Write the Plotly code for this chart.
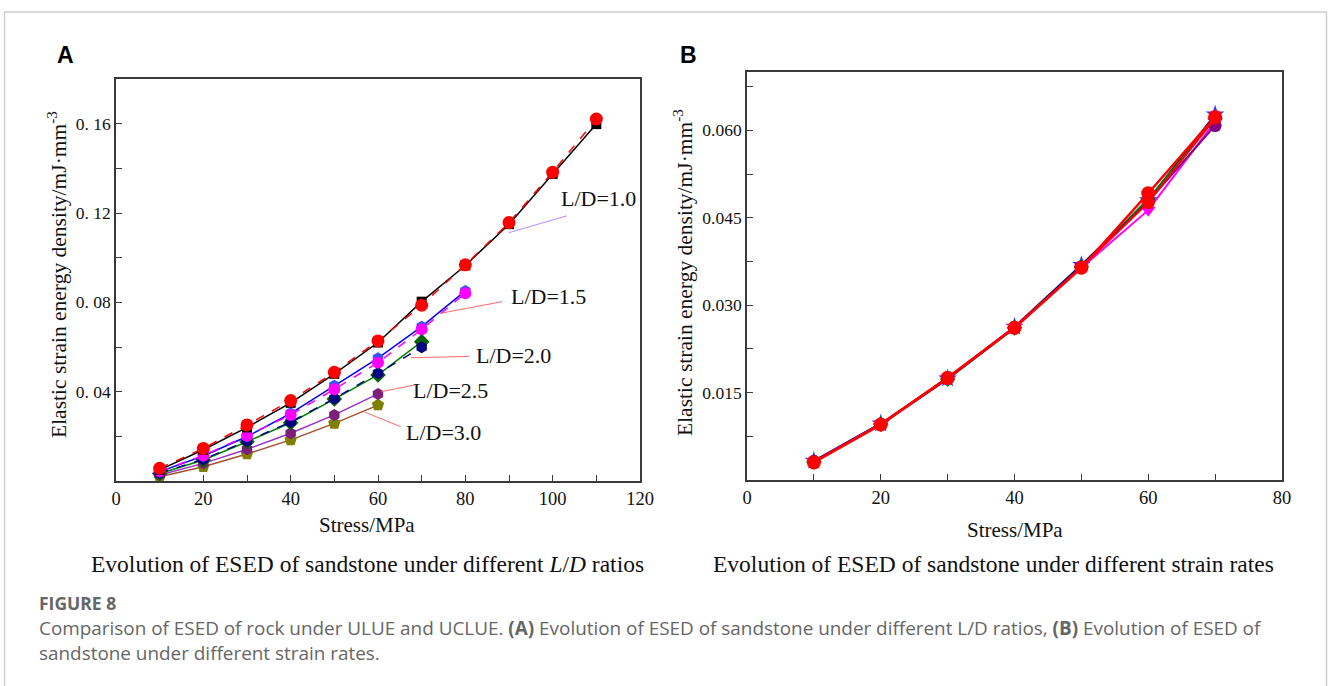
import plotly.graph_objects as go

# ---------------- data: panel A (different L/D ratios) ----------------
stress_10 = [10, 20, 30, 40, 50, 60, 70, 80, 90, 100, 110]
ld10_a = [0.0050, 0.0140, 0.0240, 0.0350, 0.0480, 0.0620, 0.0803, 0.0965, 0.1150, 0.1375, 0.1598]
ld10_b = [0.0057, 0.0146, 0.0251, 0.0360, 0.0487, 0.0627, 0.0787, 0.0968, 0.1157, 0.1383, 0.1621]

stress_15 = [10, 20, 30, 40, 50, 60, 70, 80]
ld15_a = [0.0042, 0.0112, 0.0199, 0.0303, 0.0426, 0.0550, 0.0691, 0.0851]
ld15_b = [0.0044, 0.0114, 0.0203, 0.0296, 0.0411, 0.0530, 0.0679, 0.0841]

stress_20 = [10, 20, 30, 40, 50, 60, 70]
ld20_a = [0.0034, 0.0094, 0.0176, 0.0261, 0.0367, 0.0475, 0.0624]
ld20_b = [0.0036, 0.0097, 0.0179, 0.0264, 0.0369, 0.0482, 0.0599]

stress_25 = [10, 20, 30, 40, 50, 60]
ld25 = [0.0027, 0.0079, 0.0142, 0.0214, 0.0296, 0.0390]
ld30 = [0.0019, 0.0064, 0.0121, 0.0184, 0.0258, 0.0340]

# labels of panel A: text, text position, leader start, leader end
ld_labels = ["L/D=1.0", "L/D=1.5", "L/D=2.0", "L/D=2.5", "L/D=3.0"]
ld_label_x = [110.4, 99.0, 91.0, 76.6, 75.0]
ld_label_y = [0.1266, 0.0825, 0.0564, 0.0407, 0.0216]
ld_lead_x0 = [103.2, 88.4, 80.8, 68.4, 65.2]
ld_lead_y0 = [0.1187, 0.0803, 0.0558, 0.0430, 0.0243]
ld_lead_x1 = [90.0, 74.4, 67.5, 60.8, 56.8]
ld_lead_y1 = [0.1112, 0.0751, 0.0552, 0.0400, 0.0310]
ld_lead_col = ["#b48cff", "#ff6a6a", "#ff6a6a", "#ff6a6a", "#ff6a6a"]

# ---------------- data: panel B (different strain rates) ----------------
stress_B = [10, 20, 30, 40, 50, 60, 70]
rate_1 = [0.0033, 0.0097, 0.0174, 0.0263, 0.0369, 0.0480, 0.0627]
rate_2 = [0.0031, 0.0096, 0.0173, 0.0261, 0.0366, 0.0482, 0.0620]
rate_3 = [0.0032, 0.0096, 0.0175, 0.0262, 0.0364, 0.0463, 0.0615]
rate_4 = [0.0032, 0.0095, 0.0174, 0.0261, 0.0366, 0.0478, 0.0608]
rate_5 = [0.0030, 0.0095, 0.0175, 0.0261, 0.0364, 0.0492, 0.0623]
rate_6 = [0.0031, 0.0096, 0.0176, 0.0262, 0.0365, 0.0476, 0.0621]

# ---------------- ticks ----------------
xA_tickvals = [0, 20, 40, 60, 80, 100, 120]
xA_ticktext = ["0", "20", "40", "60", "80", "100", "120"]
xA_minor = [10, 30, 50, 70, 90, 110]
yA_tickvals = [0.04, 0.08, 0.12, 0.16]
yA_ticktext = ["0. 04", "0. 08", "0. 12", "0. 16"]
yA_minor = [0.02, 0.06, 0.10, 0.14]
xB_tickvals = [0, 20, 40, 60, 80]
xB_ticktext = ["0", "20", "40", "60", "80"]
xB_minor = [10, 30, 50, 70]
yB_tickvals = [0.015, 0.030, 0.045, 0.060]
yB_ticktext = ["0.015", "0.030", "0.045", "0.060"]
yB_minor = [0.0075, 0.0225, 0.0375, 0.0525, 0.0675]

W, H = 1328, 686
SERIF = "Liberation Serif"


def px(x):
    return x / W


def py(y):
    return 1 - y / H


fig = go.Figure()


def add(x, y, xa, ya, lcol, mcol, sym, msize, dash="solid", lw=1.5):
    fig.add_trace(go.Scatter(
        x=x, y=y, xaxis=xa, yaxis=ya, mode="lines+markers",
        line=dict(color=lcol, width=lw, dash=dash),
        marker=dict(color=mcol, symbol=sym, size=msize, line=dict(width=0)),
        showlegend=False))


# panel A
add(stress_25, ld30, "x", "y", "#a0522d", "#808000", "pentagon", 13)
add(stress_25, ld25, "x", "y", "#9932cc", "#7b1f7b", "hexagon", 12)
add(stress_20, ld20_a, "x", "y", "#008000", "#006400", "diamond", 12)
add(stress_20, ld20_b, "x", "y", "#000080", "#000080", "hexagon", 12, dash="dash")
add(stress_15, ld15_a, "x", "y", "#0000ff", "#3355ff", "hexagon", 12)
add(stress_15, ld15_b, "x", "y", "#ff00ff", "#ff00ff", "circle", 12, dash="dash")
add(stress_10, ld10_a, "x", "y", "#000000", "#000000", "square", 10)
add(stress_10, ld10_b, "x", "y", "#ff0000", "#ff0000", "circle", 13, dash="dash")

# panel B
add(stress_B, rate_1, "x2", "y2", "#000080", "#3333ff", "star", 14, lw=2)
add(stress_B, rate_2, "x2", "y2", "#008000", "#008000", "diamond", 12, lw=2)
add(stress_B, rate_3, "x2", "y2", "#ff00ff", "#ff00ff", "triangle-down", 13, lw=2)
add(stress_B, rate_4, "x2", "y2", "#800080", "#800080", "circle", 13, lw=2)
add(stress_B, rate_6, "x2", "y2", "#ff0000", "#ff0000", "circle", 13, lw=2)
add(stress_B, rate_5, "x2", "y2", "#ff0000", "#ff0000", "circle", 14, lw=2.5)

axis_common = dict(
    showgrid=False, zeroline=False, showline=True, mirror=True, automargin=False,
    linecolor="#3a3a3a", linewidth=1.6, ticks="inside", ticklen=6,
    tickwidth=1.3, tickcolor="#3a3a3a", tickmode="array",
)


def minor(vals):
    return dict(tickmode="array", tickvals=vals, ticks="inside", ticklen=6,
                tickwidth=1.3, tickcolor="#3a3a3a", showgrid=False)


xfont = dict(family=SERIF, size=18.5, color="#111")
yfont = dict(family=SERIF, size=17.5, color="#111")

fig.update_layout(
    width=W, height=H, autosize=False,
    margin=dict(l=0, r=0, t=0, b=0, pad=0),
    paper_bgcolor="white", plot_bgcolor="white",
    xaxis=dict(axis_common, domain=[px(116), px(640)], range=[0, 120], tickfont=xfont,
               tickvals=xA_tickvals, ticktext=xA_ticktext, minor=minor(xA_minor), anchor="y"),
    yaxis=dict(axis_common, domain=[py(481), py(79)], range=[0, 0.18], tickfont=yfont,
               tickvals=yA_tickvals, ticktext=yA_ticktext, minor=minor(yA_minor), anchor="x"),
    xaxis2=dict(axis_common, domain=[px(747), px(1282)], range=[0, 80], tickfont=xfont,
                tickvals=xB_tickvals, ticktext=xB_ticktext, minor=minor(xB_minor), anchor="y2"),
    yaxis2=dict(axis_common, domain=[py(480), py(72)], range=[0, 0.07], tickfont=yfont,
                tickvals=yB_tickvals, ticktext=yB_ticktext, minor=minor(yB_minor), anchor="x2"),
)

ann = []
shapes = []

# L/D labels and leader lines
for t, lx, ly, x0, y0, x1, y1, c in zip(ld_labels, ld_label_x, ld_label_y,
                                         ld_lead_x0, ld_lead_y0, ld_lead_x1, ld_lead_y1, ld_lead_col):
    ann.append(dict(text=t, x=lx, y=ly, xref="x", yref="y", showarrow=False,
                    font=dict(family=SERIF, size=22, color="#111")))
    shapes.append(dict(type="line", xref="x", yref="y", x0=x0, y0=y0, x1=x1, y1=y1,
                       line=dict(color=c, width=1)))


def paper_text(text, x, y, size, family=SERIF, color="#111", angle=0, xanchor="center", align="center"):
    ann.append(dict(text=text, x=px(x), y=py(y), xref="paper", yref="paper",
                    showarrow=False, textangle=angle, xanchor=xanchor, yanchor="middle",
                    align=align, font=dict(family=family, size=size, color=color)))


ytitle = "Elastic strain energy density/mJ·mm<sup>-3</sup>"
paper_text(ytitle, 57, 275, 21.5, angle=-90)
paper_text(ytitle, 683, 272, 21.5, angle=-90)
paper_text("Stress/MPa", 367, 525, 21)
paper_text("Stress/MPa", 1015, 530, 21)
paper_text("Evolution of ESED of sandstone under different <i>L</i>/<i>D</i> ratios", 367, 564, 23.5)
paper_text("Evolution of ESED of sandstone under different strain rates", 993, 564, 23.5)
paper_text("<b>A</b>", 65, 55, 23, family="Liberation Sans", color="#000")
paper_text("<b>B</b>", 688, 55, 23, family="Liberation Sans", color="#000")

CAP = "#666666"
paper_text("<b>FIGURE 8</b>", 37, 603, 17.5, family="Open Sans", color=CAP, xanchor="left")
paper_text("Comparison of ESED of rock under ULUE and UCLUE. <b>(A)</b> Evolution of ESED of sandstone "
           "under different L/D ratios, <b>(B)</b> Evolution of ESED of<br>"
           "sandstone under different strain rates.",
           37, 640, 18.9, family="Open Sans", color=CAP, xanchor="left", align="left")

# outer frame of the figure card
shapes.append(dict(type="rect", xref="paper", yref="paper", x0=px(4.5), x1=px(1326.5),
                   y0=-0.05, y1=py(12), line=dict(color="#cfcfcf", width=1.5)))

fig.update_layout(annotations=ann, shapes=shapes)
fig.write_html("out.html",
               config={"displayModeBar": False, "responsive": False},
               post_script="document.body.style.margin='0';document.body.style.overflow='hidden';")
